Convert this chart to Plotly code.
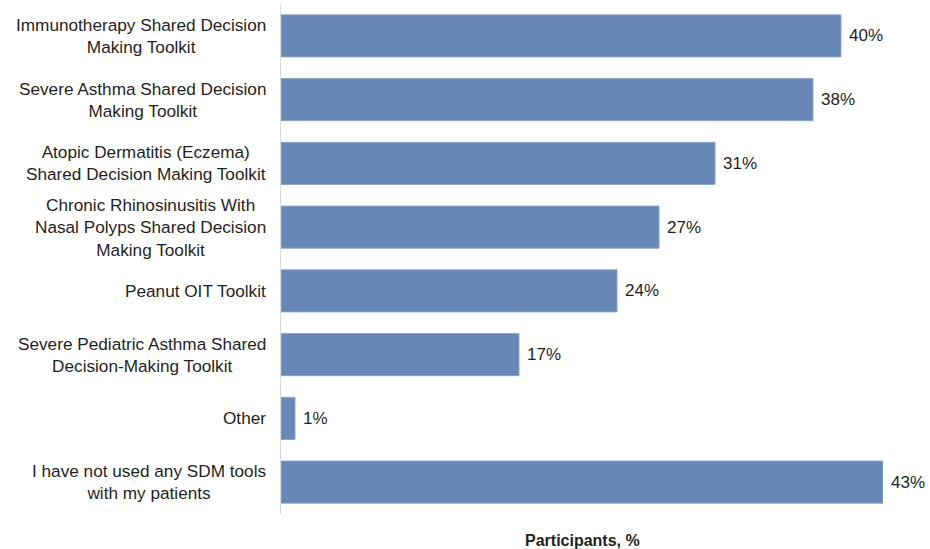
import plotly.graph_objects as go

categories = [
    "Immunotherapy Shared Decision<br>Making Toolkit",
    "Severe Asthma Shared Decision<br>Making Toolkit",
    "Atopic Dermatitis (Eczema)<br>Shared Decision Making Toolkit",
    "Chronic Rhinosinusitis With<br>Nasal Polyps Shared Decision<br>Making Toolkit",
    "Peanut OIT Toolkit",
    "Severe Pediatric Asthma Shared<br>Decision-Making Toolkit",
    "Other",
    "I have not used any SDM tools<br>with my patients",
]
values = [40, 38, 31, 27, 24, 17, 1, 43]
value_labels = [f"{v}%" for v in values]
axis_title = "Participants, %"

FONT = "Liberation Sans, Arial, sans-serif"
TEXT = "#1f1f1f"
BAR = "#6787b7"

fig = go.Figure(
    go.Bar(
        x=values,
        y=categories,
        orientation="h",
        marker=dict(color=BAR, line=dict(color="#8aa5cc", width=1)),
        hoverinfo="skip",
    )
)

# Category labels as centred multi-line text to the left of the axis
for cat in categories:
    fig.add_annotation(
        x=0, y=cat, xref="x", yref="y",
        text=cat, showarrow=False,
        xanchor="right", align="center", xshift=-13,
        font=dict(family=FONT, size=17.2, color=TEXT),
    )

# Value labels just past the end of each bar
for cat, v, lab in zip(categories, values, value_labels):
    fig.add_annotation(
        x=v, y=cat, xref="x", yref="y",
        text=lab, showarrow=False,
        xanchor="left", xshift=6,
        font=dict(family=FONT, size=17, color=TEXT),
    )

fig.add_annotation(
    x=0.5, y=0, xref="paper", yref="paper",
    text=f"<b>{axis_title}</b>", showarrow=False,
    xanchor="center", yanchor="top", yshift=-16,
    font=dict(family=FONT, size=16, color=TEXT),
)

fig.update_layout(
    width=930, height=549,
    margin=dict(l=281, r=47, t=4, b=35),
    paper_bgcolor="white", plot_bgcolor="white",
    bargap=0.34,
    showlegend=False,
    xaxis=dict(range=[0, 43], showticklabels=False, showgrid=False,
               zeroline=False, showline=False, fixedrange=True),
    yaxis=dict(autorange="reversed", showticklabels=False, showgrid=False,
               showline=True, linecolor="#d9d9d9", linewidth=1,
               ticks="", fixedrange=True),
)

fig.write_html("out.html")
